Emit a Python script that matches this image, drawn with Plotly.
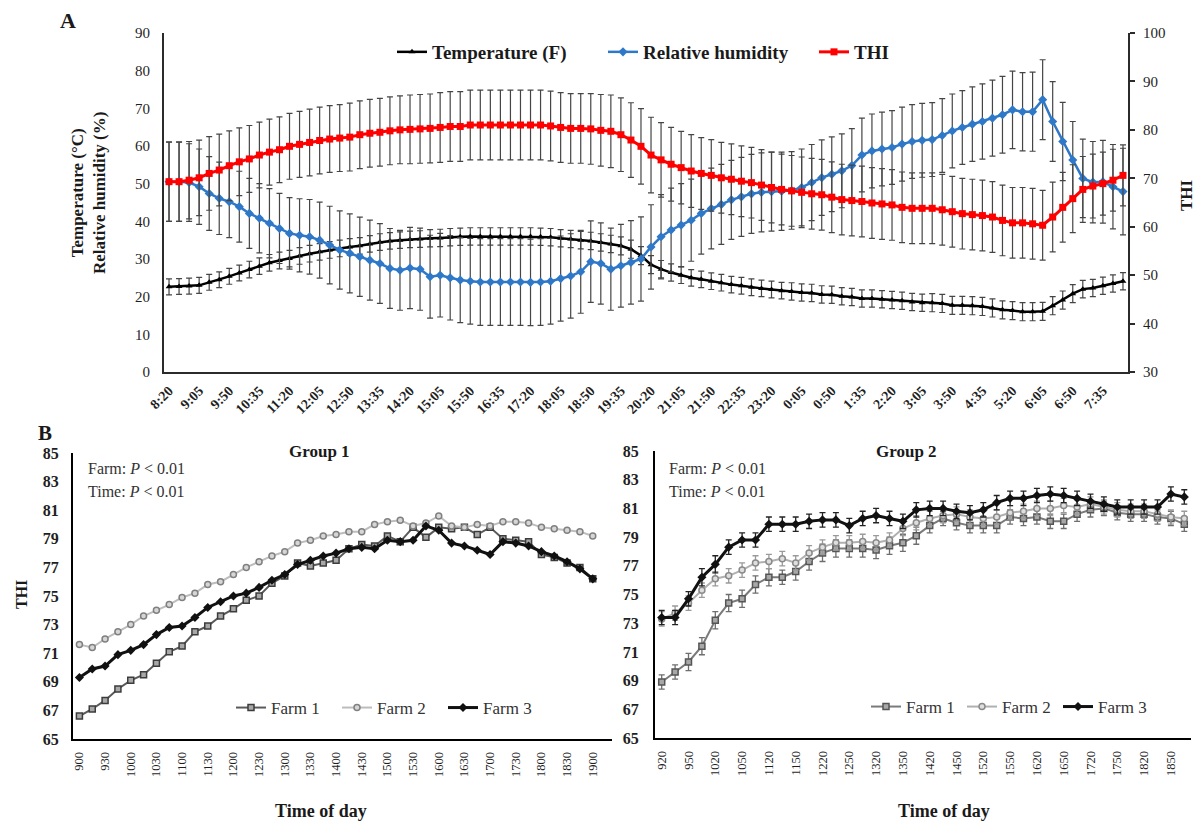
import plotly.graph_objects as go

W, H = 1198, 826
SERIF = "Liberation Serif, Times New Roman, serif"


def fx(x):
    return x / W


def fy(y):
    return 1 - y / H


# ---------------- Panel A data (15-min steps, 8:20 -> 8:05 next day) ----------------
top_times = [
    "8:20", "8:35", "8:50", "9:05", "9:20", "9:35", "9:50", "10:05", "10:20", "10:35", "10:50", "11:05",
    "11:20", "11:35", "11:50", "12:05", "12:20", "12:35", "12:50", "13:05", "13:20", "13:35", "13:50", "14:05",
    "14:20", "14:35", "14:50", "15:05", "15:20", "15:35", "15:50", "16:05", "16:20", "16:35", "16:50", "17:05",
    "17:20", "17:35", "17:50", "18:05", "18:20", "18:35", "18:50", "19:05", "19:20", "19:35", "19:50", "20:05",
    "20:20", "20:35", "20:50", "21:05", "21:20", "21:35", "21:50", "22:05", "22:20", "22:35", "22:50", "23:05",
    "23:20", "23:35", "23:50", "0:05", "0:20", "0:35", "0:50", "1:05", "1:20", "1:35", "1:50", "2:05",
    "2:20", "2:35", "2:50", "3:05", "3:20", "3:35", "3:50", "4:05", "4:20", "4:35", "4:50", "5:05",
    "5:20", "5:35", "5:50", "6:05", "6:20", "6:35", "6:50", "7:05", "7:20", "7:35", "7:50", "8:05",
]
top_tick_labels = [
    "8:20", "9:05", "9:50", "10:35", "11:20", "12:05", "12:50", "13:35", "14:20", "15:05", "15:50",
    "16:35", "17:20", "18:05", "18:50", "19:35", "20:20", "21:05", "21:50", "22:35", "23:20", "0:05",
    "0:50", "1:35", "2:20", "3:05", "3:50", "4:35", "5:20", "6:05", "6:50", "7:35",
]

temperature = [
    22.6, 22.7, 22.8, 23.0, 23.8, 24.5, 25.4, 26.3, 27.2, 28.1, 29.0, 29.6,
    30.1, 30.8, 31.4, 31.9, 32.4, 32.8, 33.2, 33.5, 34.0, 34.5, 34.8, 35.0,
    35.2, 35.3, 35.5, 35.6, 35.8, 35.9, 36.0, 36.0, 36.0, 36.0, 36.0, 36.0,
    36.0, 35.9, 35.8, 35.5, 35.3, 35.0, 34.8, 34.4, 34.0, 33.5, 32.6, 30.9,
    28.5, 27.3, 26.4, 25.7, 25.0, 24.6, 24.1, 23.7, 23.2, 22.9, 22.5, 22.2,
    21.9, 21.6, 21.4, 21.1, 21.0, 20.6, 20.5, 20.1, 19.9, 19.5, 19.5, 19.3,
    19.1, 18.9, 18.6, 18.4, 18.4, 18.2, 17.7, 17.7, 17.6, 17.4, 17.0, 16.5,
    16.3, 16.0, 16.0, 16.1, 17.6, 19.1, 20.8, 22.0, 22.3, 22.9, 23.5, 24.1,
]
temperature_err = [
    2.1, 2.1, 2.1, 2.1, 2.1, 2.1, 2.1, 2.1, 2.2, 2.2, 2.2, 2.2,
    2.2, 2.2, 2.2, 2.2, 2.2, 2.2, 2.2, 2.2, 2.2, 2.2, 2.2, 2.2,
    2.2, 2.2, 2.3, 2.3, 2.3, 2.3, 2.3, 2.3, 2.3, 2.3, 2.3, 2.3,
    2.3, 2.3, 2.3, 2.3, 2.3, 2.3, 2.3, 2.3, 2.3, 2.4, 2.4, 2.4,
    2.4, 2.3, 2.3, 2.2, 2.2, 2.2, 2.2, 2.2, 2.2, 2.2, 2.2, 2.2,
    2.2, 2.2, 2.3, 2.3, 2.3, 2.3, 2.3, 2.3, 2.3, 2.3, 2.3, 2.3,
    2.3, 2.3, 2.3, 2.3, 2.4, 2.4, 2.4, 2.4, 2.4, 2.4, 2.4, 2.4,
    2.4, 2.4, 2.4, 2.4, 2.4, 2.4, 2.4, 2.3, 2.3, 2.3, 2.3, 2.3,
]
humidity = [
    50.5, 50.5, 50.3, 49.2, 47.4, 46.1, 45.2, 43.9, 42.1, 40.8, 39.5, 38.1,
    36.8, 36.3, 35.9, 35.0, 33.7, 32.4, 31.5, 30.6, 29.7, 28.8, 27.5, 27.0,
    27.6, 27.3, 25.3, 25.7, 25.0, 24.4, 24.1, 23.9, 23.9, 23.9, 23.9, 23.9,
    23.8, 23.9, 24.1, 24.8, 25.5, 26.6, 29.3, 28.8, 27.3, 28.2, 29.1, 30.0,
    33.2, 35.9, 37.7, 39.0, 40.3, 42.1, 43.4, 44.5, 45.7, 46.5, 47.3, 47.7,
    47.9, 48.0, 48.2, 49.0, 50.3, 51.6, 52.5, 53.4, 54.8, 57.6, 58.7, 59.2,
    59.6, 60.5, 61.2, 61.5, 61.7, 62.8, 64.0, 64.9, 65.8, 66.5, 67.4, 68.3,
    69.6, 69.1, 69.1, 72.3, 66.5, 61.2, 56.3, 51.4, 50.4, 50.5, 49.2, 47.9,
]
humidity_err = [
    10.5, 10.5, 10.3, 10.0, 9.8, 9.6, 9.5, 9.4, 9.3, 9.2, 9.2, 9.3,
    9.5, 9.7, 9.9, 10.1, 10.3, 10.4, 10.5, 10.5, 10.6, 10.6, 10.6, 10.6,
    10.8, 10.9, 11.0, 11.1, 11.2, 11.3, 11.4, 11.5, 11.5, 11.5, 11.5, 11.5,
    11.5, 11.5, 11.4, 11.3, 11.2, 11.0, 10.8, 10.8, 10.9, 11.0, 11.1, 11.2,
    11.2, 11.2, 11.1, 11.0, 10.9, 10.8, 10.7, 10.6, 10.5, 10.5, 10.5, 10.5,
    10.5, 10.4, 10.3, 10.2, 10.1, 10.0, 9.9, 9.8, 9.8, 9.8, 9.8, 9.8,
    9.8, 9.8, 9.8, 9.8, 9.8, 9.8, 9.8, 9.8, 9.9, 10.0, 10.1, 10.2,
    10.3, 10.4, 10.5, 10.6, 10.6, 10.4, 10.2, 10.4, 10.8, 11.0, 11.2, 11.5,
]
thi = [
    69.3, 69.3, 69.6, 70.1, 71.0, 71.7, 72.6, 73.4, 74.0, 74.8, 75.4, 75.9,
    76.6, 77.0, 77.4, 77.8, 78.1, 78.3, 78.5, 79.0, 79.3, 79.5, 79.8, 80.0,
    80.1, 80.2, 80.3, 80.5, 80.7, 80.7, 81.0, 81.0, 81.0, 81.0, 81.0, 81.0,
    81.0, 81.0, 80.8, 80.5, 80.3, 80.3, 80.2, 79.9, 79.7, 79.0, 77.9, 76.6,
    74.8, 73.8, 72.9, 72.2, 71.5, 71.0, 70.6, 70.1, 69.8, 69.4, 69.1, 68.6,
    68.1, 67.7, 67.4, 67.1, 66.8, 66.6, 66.1, 65.6, 65.4, 65.2, 64.9, 64.7,
    64.5, 64.0, 63.8, 63.8, 63.8, 63.5, 63.1, 62.7, 62.5, 62.3, 62.0, 61.3,
    60.8, 60.8, 60.6, 60.3, 62.0, 64.0, 65.8, 67.7, 68.4, 68.9, 69.6, 70.6,
]
thi_err = [
    8.2, 8.2, 8.0, 7.8, 7.6, 7.4, 7.2, 7.0, 6.9, 6.8, 6.8, 6.8,
    6.8, 6.8, 6.9, 6.9, 6.9, 6.9, 7.0, 7.0, 7.0, 7.0, 7.0, 7.0,
    7.1, 7.1, 7.1, 7.2, 7.2, 7.2, 7.2, 7.2, 7.2, 7.2, 7.2, 7.2,
    7.2, 7.2, 7.2, 7.2, 7.2, 7.2, 7.3, 7.4, 7.5, 7.6, 7.7, 7.8,
    7.8, 7.7, 7.6, 7.5, 7.5, 7.4, 7.4, 7.3, 7.3, 7.3, 7.3, 7.3,
    7.3, 7.3, 7.3, 7.3, 7.3, 7.3, 7.3, 7.3, 7.3, 7.3, 7.3, 7.3,
    7.3, 7.3, 7.3, 7.3, 7.3, 7.3, 7.3, 7.3, 7.3, 7.3, 7.3, 7.3,
    7.3, 7.3, 7.3, 7.2, 7.2, 7.2, 7.0, 6.8, 6.6, 6.5, 6.4, 6.3,
]

# ---------------- Panel B, Group 1 (15-min steps, 900 -> 1900) ----------------
g1_times = [
    "900", "915", "930", "945", "1000", "1015", "1030", "1045", "1100", "1115", "1130", "1145",
    "1200", "1215", "1230", "1245", "1300", "1315", "1330", "1345", "1400", "1415", "1430", "1445",
    "1500", "1515", "1530", "1545", "1600", "1615", "1630", "1645", "1700", "1715", "1730", "1745",
    "1800", "1815", "1830", "1845", "1900",
]
g1_tick_labels = ["900", "930", "1000", "1030", "1100", "1130", "1200", "1230", "1300", "1330", "1400",
                  "1430", "1500", "1530", "1600", "1630", "1700", "1730", "1800", "1830", "1900"]
g1_farm1 = [66.6, 67.1, 67.7, 68.5, 69.1, 69.5, 70.3, 71.1, 71.5, 72.5, 72.9, 73.6, 74.1, 74.7,
            75.0, 75.9, 76.4, 77.3, 77.1, 77.3, 77.5, 78.3, 78.6, 78.5, 79.2, 78.8, 79.8, 79.1,
            79.8, 79.7, 79.8, 79.3, 79.8, 79.0, 78.9, 78.8, 77.9, 77.7, 77.3, 77.0, 76.2]
g1_farm2 = [71.6, 71.4, 72.0, 72.5, 73.0, 73.6, 74.0, 74.4, 74.9, 75.2, 75.8, 76.0, 76.5, 77.0,
            77.4, 77.8, 78.1, 78.7, 78.9, 79.2, 79.3, 79.5, 79.5, 80.0, 80.2, 80.3, 79.9, 80.1,
            80.6, 79.9, 79.8, 80.0, 79.9, 80.2, 80.2, 80.1, 79.8, 79.7, 79.6, 79.5, 79.2]
g1_farm3 = [69.3, 69.9, 70.1, 70.9, 71.2, 71.6, 72.3, 72.8, 72.9, 73.5, 74.2, 74.6, 75.0, 75.2,
            75.6, 76.1, 76.5, 77.2, 77.5, 77.8, 78.0, 78.3, 78.4, 78.3, 78.9, 78.8, 78.9, 79.9,
            79.6, 78.7, 78.5, 78.2, 77.9, 78.8, 78.7, 78.5, 78.1, 77.8, 77.4, 76.9, 76.2]

# ---------------- Panel B, Group 2 (15-min steps, 920 -> 1905) ----------------
g2_times = [
    "920", "935", "950", "1005", "1020", "1035", "1050", "1105", "1120", "1135", "1150", "1205",
    "1220", "1235", "1250", "1305", "1320", "1335", "1350", "1405", "1420", "1435", "1450", "1505",
    "1520", "1535", "1550", "1605", "1620", "1635", "1650", "1705", "1720", "1735", "1750", "1805",
    "1820", "1835", "1850", "1905",
]
g2_tick_labels = ["920", "950", "1020", "1050", "1120", "1150", "1220", "1250", "1320", "1350",
                  "1420", "1450", "1520", "1550", "1620", "1650", "1720", "1750", "1820", "1850"]
g2_farm1 = [68.9, 69.6, 70.3, 71.4, 73.2, 74.4, 74.7, 75.7, 76.2, 76.2, 76.6, 77.3, 77.9, 78.2,
            78.2, 78.2, 78.1, 78.4, 78.6, 79.1, 79.8, 80.3, 80.0, 79.8, 79.8, 79.8, 80.4, 80.3,
            80.4, 80.1, 80.1, 80.6, 80.9, 81.0, 80.7, 80.6, 80.6, 80.4, 80.3, 79.9]
g2_farm1_err = [0.5, 0.5, 0.6, 0.6, 0.6, 0.6, 0.6, 0.6, 0.6, 0.5, 0.6, 0.6, 0.6, 0.6,
                0.6, 0.6, 0.6, 0.6, 0.6, 0.6, 0.5, 0.5, 0.5, 0.5, 0.5, 0.5, 0.5, 0.5,
                0.5, 0.5, 0.5, 0.5, 0.5, 0.5, 0.5, 0.5, 0.5, 0.5, 0.5, 0.5]
g2_farm2 = [73.3, 73.7, 74.4, 75.3, 76.1, 76.3, 76.7, 77.2, 77.3, 77.5, 77.2, 77.9, 78.3, 78.6,
            78.6, 78.7, 78.6, 78.8, 79.6, 80.0, 80.3, 80.5, 80.6, 80.4, 80.3, 80.4, 80.7, 80.8,
            81.0, 81.0, 81.2, 81.1, 81.3, 81.1, 80.9, 80.8, 80.8, 80.6, 80.4, 80.3]
g2_farm2_err = [0.5, 0.5, 0.5, 0.5, 0.5, 0.5, 0.5, 0.5, 0.5, 0.5, 0.5, 0.5, 0.5, 0.5,
                0.5, 0.5, 0.5, 0.5, 0.5, 0.5, 0.5, 0.5, 0.5, 0.5, 0.5, 0.5, 0.5, 0.5,
                0.5, 0.5, 0.5, 0.5, 0.5, 0.5, 0.5, 0.5, 0.5, 0.5, 0.5, 0.5]
g2_farm3 = [73.4, 73.4, 74.7, 76.2, 77.1, 78.3, 78.8, 78.8, 79.9, 79.9, 79.9, 80.1, 80.2, 80.2,
            79.8, 80.3, 80.5, 80.3, 80.1, 80.9, 81.0, 81.0, 80.8, 80.7, 80.9, 81.4, 81.7, 81.7,
            81.9, 82.0, 81.9, 81.7, 81.5, 81.3, 81.1, 81.1, 81.1, 81.1, 82.0, 81.8]
g2_farm3_err = [0.5, 0.5, 0.5, 0.6, 0.6, 0.5, 0.5, 0.5, 0.5, 0.5, 0.5, 0.5, 0.5, 0.5,
                0.5, 0.5, 0.5, 0.5, 0.5, 0.5, 0.5, 0.5, 0.5, 0.5, 0.5, 0.5, 0.5, 0.5,
                0.5, 0.5, 0.5, 0.5, 0.5, 0.5, 0.5, 0.5, 0.5, 0.5, 0.5, 0.5]

fig = go.Figure()

ERR_TOP = "#454545"
# ---- Panel A traces ----
fig.add_trace(go.Scatter(
    x=top_times, y=temperature, name="Temperature (F)", mode="lines+markers",
    line=dict(color="black", width=2.5),
    marker=dict(symbol="triangle-up", size=6, color="black"),
    error_y=dict(type="data", array=temperature_err, color=ERR_TOP, thickness=1.2, width=3),
    xaxis="x", yaxis="y", legend="legend"))
fig.add_trace(go.Scatter(
    x=top_times, y=humidity, name="Relative humidity", mode="lines+markers",
    line=dict(color="#2F78C8", width=2.5),
    marker=dict(symbol="diamond", size=7, color="#2F78C8"),
    error_y=dict(type="data", array=humidity_err, color=ERR_TOP, thickness=1.2, width=3),
    xaxis="x", yaxis="y", legend="legend"))
fig.add_trace(go.Scatter(
    x=top_times, y=thi, name="THI", mode="lines+markers",
    line=dict(color="#FF0000", width=3),
    marker=dict(symbol="square", size=7, color="#FF0000"),
    error_y=dict(type="data", array=thi_err, color=ERR_TOP, thickness=1.2, width=3),
    xaxis="x", yaxis="y2", legend="legend"))

# ---- Group 1 traces ----
fig.add_trace(go.Scatter(
    x=g1_times, y=g1_farm1, name="Farm 1", mode="lines+markers",
    line=dict(color="#5a5a5a", width=2),
    marker=dict(symbol="square", size=6, color="#a8a8a8", line=dict(color="#3c3c3c", width=1.5)),
    xaxis="x2", yaxis="y3", legend="legend2"))
fig.add_trace(go.Scatter(
    x=g1_times, y=g1_farm2, name="Farm 2", mode="lines+markers",
    line=dict(color="#bdbdbd", width=2),
    marker=dict(symbol="circle", size=6, color="#d6d6d6", line=dict(color="#808080", width=1.5)),
    xaxis="x2", yaxis="y3", legend="legend2"))
fig.add_trace(go.Scatter(
    x=g1_times, y=g1_farm3, name="Farm 3", mode="lines+markers",
    line=dict(color="#111111", width=3),
    marker=dict(symbol="diamond", size=7, color="#111111"),
    xaxis="x2", yaxis="y3", legend="legend2"))

# ---- Group 2 traces ----
fig.add_trace(go.Scatter(
    x=g2_times, y=g2_farm1, name="Farm 1", mode="lines+markers",
    line=dict(color="#7a7a7a", width=2),
    marker=dict(symbol="square", size=6, color="#a8a8a8", line=dict(color="#555555", width=1.5)),
    error_y=dict(type="data", array=g2_farm1_err, color="#6e6e6e", thickness=1.3, width=3),
    xaxis="x3", yaxis="y4", legend="legend3"))
fig.add_trace(go.Scatter(
    x=g2_times, y=g2_farm2, name="Farm 2", mode="lines+markers",
    line=dict(color="#b0b0b0", width=2),
    marker=dict(symbol="circle", size=6, color="#dedede", line=dict(color="#8a8a8a", width=1.5)),
    error_y=dict(type="data", array=g2_farm2_err, color="#9a9a9a", thickness=1.3, width=3),
    xaxis="x3", yaxis="y4", legend="legend3"))
fig.add_trace(go.Scatter(
    x=g2_times, y=g2_farm3, name="Farm 3", mode="lines+markers",
    line=dict(color="#111111", width=3),
    marker=dict(symbol="diamond", size=7, color="#111111"),
    error_y=dict(type="data", array=g2_farm3_err, color="#222222", thickness=1.3, width=3),
    xaxis="x3", yaxis="y4", legend="legend3"))

AX = "#2b2b2b"
common_y = dict(showgrid=False, zeroline=False, showline=True, linecolor=AX, linewidth=2)

fig.update_layout(
    width=W, height=H, margin=dict(l=0, r=0, t=0, b=0, autoexpand=False),
    paper_bgcolor="white", plot_bgcolor="white",
    font=dict(family=SERIF, color="#1f1f1f"),
    xaxis=dict(domain=[fx(164), fx(1128)], anchor="y", type="category",
               categoryorder="array", categoryarray=top_times, range=[-0.5, 95.5],
               tickmode="array", tickvals=top_tick_labels, ticktext=top_tick_labels,
               tickangle=-45, tickfont=dict(family=SERIF, size=14, weight="bold"),
               showgrid=False, zeroline=False, showline=True, linecolor=AX, linewidth=2, ticks="",
               ticklabelstandoff=3, automargin=False),
    yaxis=dict(domain=[fy(372), fy(33)], anchor="x", range=[0, 90], dtick=10, tick0=0,
               tickfont=dict(family=SERIF, size=15), ticks="", ticklabelstandoff=9,
               automargin=False, **common_y),
    yaxis2=dict(overlaying="y", side="right", anchor="x", range=[30, 100], dtick=10, tick0=30,
                tickfont=dict(family=SERIF, size=15), ticks="outside", ticklen=5, tickcolor=AX,
                tickwidth=1.5, ticklabelstandoff=5, automargin=False, **common_y),
    xaxis2=dict(domain=[fx(73), fx(612)], anchor="y3", type="category",
                categoryorder="array", categoryarray=g1_times, range=[-0.5, 41.5],
                tickmode="array", tickvals=g1_tick_labels, ticktext=g1_tick_labels,
                tickangle=-90, tickfont=dict(family=SERIF, size=12.5),
                showgrid=False, zeroline=False, showline=True, linecolor="black", linewidth=2, ticks="",
                ticklabelstandoff=6, automargin=False),
    yaxis3=dict(domain=[fy(739), fy(453)], anchor="x2", range=[65, 85], dtick=2, tick0=65,
                tickfont=dict(family=SERIF, size=16, weight="bold"), ticks="", ticklabelstandoff=9,
                automargin=False,
                showgrid=False, zeroline=False, showline=True, linecolor="black", linewidth=2),
    xaxis3=dict(domain=[fx(655), fx(1191)], anchor="y4", type="category",
                categoryorder="array", categoryarray=g2_times, range=[-0.5, 39.5],
                tickmode="array", tickvals=g2_tick_labels, ticktext=g2_tick_labels,
                tickangle=-90, tickfont=dict(family=SERIF, size=12.5),
                showgrid=False, zeroline=False, showline=True, linecolor="black", linewidth=2, ticks="",
                ticklabelstandoff=6, automargin=False),
    yaxis4=dict(domain=[fy(738), fy(451)], anchor="x3", range=[65, 85], dtick=2, tick0=65,
                tickfont=dict(family=SERIF, size=16, weight="bold"), ticks="", ticklabelstandoff=11,
                automargin=False,
                showgrid=False, zeroline=False, showline=True, linecolor="black", linewidth=2),
    legend=dict(orientation="h", x=fx(392), xanchor="left", y=fy(52), yanchor="middle",
                font=dict(family=SERIF, size=19, weight="bold", color="#1a1a1a"),
                bgcolor="rgba(0,0,0,0)", itemwidth=30, entrywidth=166, entrywidthmode="pixels"),
    legend2=dict(orientation="h", x=fx(231), xanchor="left", y=fy(708), yanchor="middle",
                 font=dict(family=SERIF, size=17, color="#333333"),
                 bgcolor="rgba(0,0,0,0)", itemwidth=30, entrywidth=61, entrywidthmode="pixels"),
    legend3=dict(orientation="h", x=fx(866), xanchor="left", y=fy(707), yanchor="middle",
                 font=dict(family=SERIF, size=17, color="#333333"),
                 bgcolor="rgba(0,0,0,0)", itemwidth=30, entrywidth=51, entrywidthmode="pixels"),
)


def note(text, x, y, size, bold=False, angle=0, xanchor="center", color="#1a1a1a"):
    fig.add_annotation(text=text, x=fx(x), y=fy(y), xref="paper", yref="paper",
                       showarrow=False, xanchor=xanchor, yanchor="middle", textangle=angle,
                       font=dict(family=SERIF, size=size, color=color,
                                 weight="bold" if bold else "normal"))


note("A", 68, 20, 22, bold=True)
note("B", 45, 433, 21, bold=True)
note("Temperature (°C)<br>Relative humidity (%)", 88, 193, 17, bold=True, angle=-90)
note("THI", 1186, 195, 17, bold=True, angle=-90)
note("Group 1", 319, 451, 17, bold=True)
note("Group 2", 906, 451, 17, bold=True)
note("Farm: <i>P</i> &lt; 0.01", 86, 468, 16, xanchor="left", color="#333333")
note("Time: <i>P</i> &lt; 0.01", 86, 491, 16, xanchor="left", color="#333333")
note("Farm: <i>P</i> &lt; 0.01", 667, 468, 16, xanchor="left", color="#333333")
note("Time: <i>P</i> &lt; 0.01", 667, 491, 16, xanchor="left", color="#333333")
note("Time of day", 321, 811, 18, bold=True)
note("Time of day", 944, 811, 18, bold=True)
note("THI", 21, 595, 16, bold=True, angle=-90)

fig.write_html("out.html")
